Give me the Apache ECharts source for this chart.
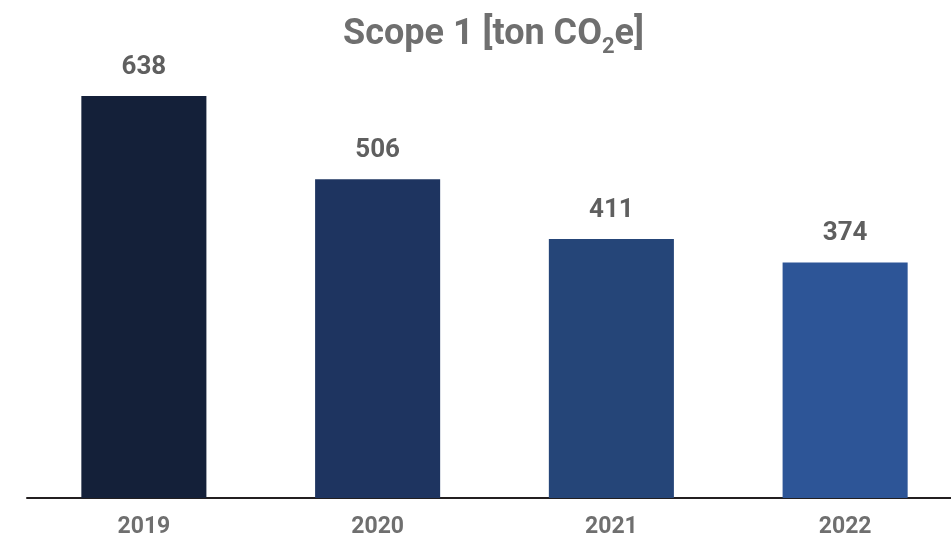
<!DOCTYPE html>
<html><head><meta charset="utf-8">
<script src="https://cdn.jsdelivr.net/npm/echarts@6/dist/echarts.min.js"></script>
<style>html,body{margin:0;padding:0;background:#fff}#c{width:951px;height:538px}</style>
</head><body><div id="c"></div>
<script>
const categories = ['2019', '2020', '2021', '2022'];
const values = [638, 506, 411, 374];
const barColors = ['#142039', '#1e3460', '#254578', '#2d5597'];

const chart = echarts.init(document.getElementById('c'), null, {renderer: 'canvas'});
chart.setOption({
  animation: false,
  backgroundColor: '#fff',
  title: {
    text: '{a|Scope 1 [ton CO}{s|2}{a|e]}',
    left: 338, top: 8,
    textStyle: {
      rich: {
        a: {fontFamily: 'Roboto', fontWeight: 'bold', fontSize: 36, color: '#6f6f6f', lineHeight: 44},
        s: {fontFamily: 'Roboto', fontWeight: 'bold', fontSize: 22, color: '#6f6f6f', padding: [24, 0, 0, 0], lineHeight: 44}
      }
    }
  },
  grid: {left: 27, right: -11, top: 57, bottom: 40, containLabel: false, outerBoundsMode: 'none'},
  xAxis: {
    type: 'category', data: categories,
    axisLine: {lineStyle: {color: '#231f20', width: 2}},
    axisTick: {show: false},
    axisLabel: {color: '#6f6f6f', fontFamily: 'Roboto', fontWeight: 'bold', fontSize: 23, margin: 18}
  },
  yAxis: {type: 'value', min: 0, max: 700, show: false, splitLine: {show: false}},
  series: [{
    type: 'bar', barWidth: '53.5%',
    data: values.map((v, i) => ({value: v, itemStyle: {color: barColors[i]}})),
    label: {show: true, position: 'top', distance: 16, color: '#5f5f5f', fontFamily: 'Roboto', fontWeight: 'bold', fontSize: 26}
  }]
});
</script></body></html>
